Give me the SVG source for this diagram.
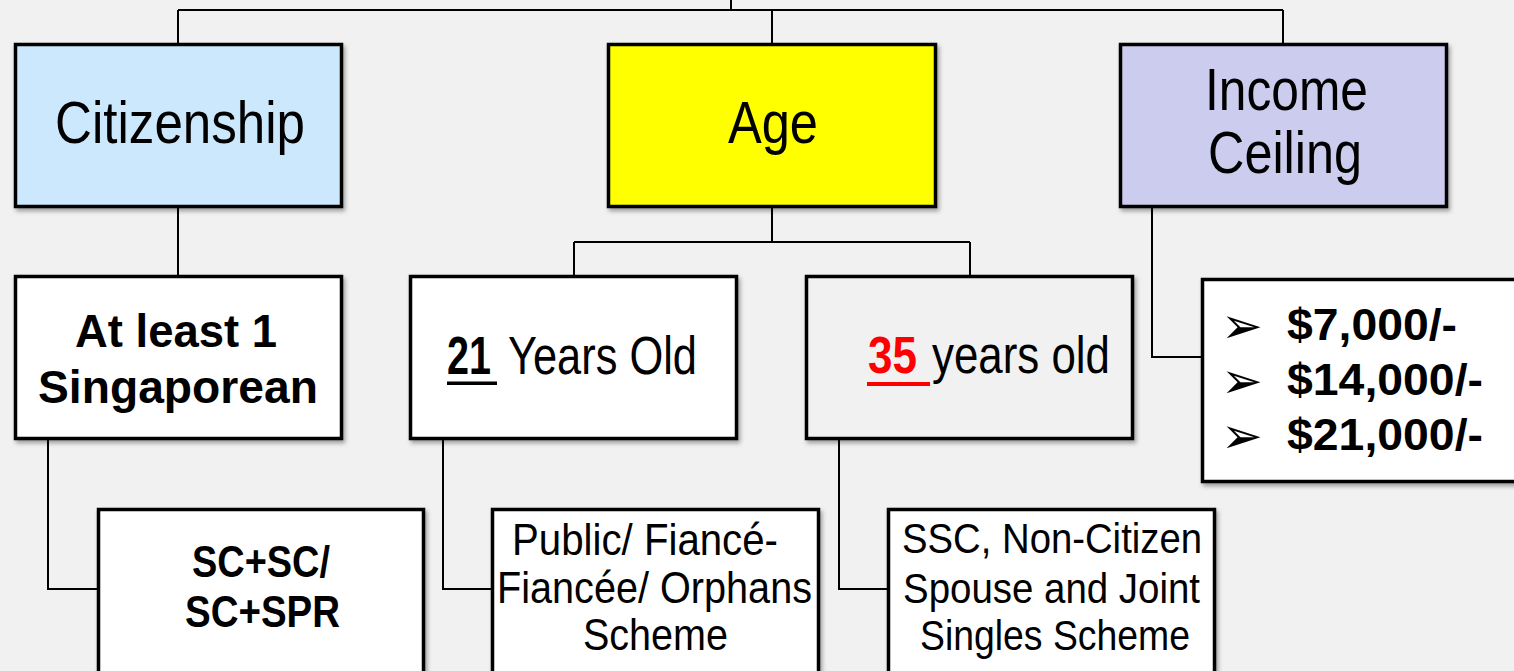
<svg xmlns="http://www.w3.org/2000/svg" width="1514" height="671" viewBox="0 0 1514 671">
<defs>
<filter id="sh" x="-10%" y="-10%" width="120%" height="130%">
<feDropShadow dx="2" dy="3" stdDeviation="2" flood-color="#000" flood-opacity="0.35"/>
</filter>
<style>
.box{stroke:#000;stroke-width:3.5;filter:url(#sh)}
.w{fill:#fff}
.c{fill:none;stroke:#000;stroke-width:2}
text{font-family:"Liberation Sans",Arial,sans-serif;fill:#000}
.b{font-weight:bold}
.bul{font-family:"DejaVu Sans",sans-serif;font-size:50px}
</style>
</defs>
<rect width="1514" height="671" fill="#f1f1f1"/>
<g id="connectors">
<path class="c" d="M731 0V10M178 10H1283M178 10V43M772 10V43M1283 10V43"/>
<path class="c" d="M178 208V275"/>
<path class="c" d="M772 208V242M574 242H970M574 242V275M970 242V275"/>
<path class="c" d="M1152 208V357H1201"/>
<path class="c" d="M48 440V589H97"/>
<path class="c" d="M443 440V589H492"/>
<path class="c" d="M839 440V589H887"/>
</g>
<g id="citizenship">
<rect class="box" x="15.5" y="44.5" width="326" height="162" fill="#cce8fd"/>
<text x="55" y="143" font-size="60" textLength="250" lengthAdjust="spacingAndGlyphs">Citizenship</text>
</g>
<g id="age">
<rect class="box" x="608.5" y="44.5" width="327" height="162" fill="#ffff00"/>
<text x="728" y="143" font-size="60" textLength="90" lengthAdjust="spacingAndGlyphs">Age</text>
</g>
<g id="income">
<rect class="box" x="1120.5" y="44.5" width="326" height="162" fill="#ccccee"/>
<text x="1205" y="110" font-size="60" textLength="163" lengthAdjust="spacingAndGlyphs">Income</text>
<text x="1208" y="173" font-size="60" textLength="154" lengthAdjust="spacingAndGlyphs">Ceiling</text>
</g>
<g id="atleast">
<rect class="box w" x="15.5" y="276.5" width="326" height="162"/>
<text class="b" x="75" y="347" font-size="47" textLength="202" lengthAdjust="spacingAndGlyphs">At least 1</text>
<text class="b" x="38" y="403" font-size="47" textLength="280" lengthAdjust="spacingAndGlyphs">Singaporean</text>
</g>
<g id="age21">
<rect class="box w" x="410.5" y="276.5" width="326" height="162"/>
<text class="b" x="447" y="374" font-size="53" textLength="44" lengthAdjust="spacingAndGlyphs">21</text>
<rect x="447" y="381.5" width="50" height="3.5" fill="#000"/>
<text x="508" y="374" font-size="53" textLength="189" lengthAdjust="spacingAndGlyphs">Years Old</text>
</g>
<g id="age35">
<rect class="box" x="806.5" y="276.5" width="326" height="162" fill="#f1f1f1"/>
<text class="b" x="868" y="373" font-size="51" textLength="49" lengthAdjust="spacingAndGlyphs" style="fill:#ff0000">35</text>
<rect x="867" y="382" width="63" height="4" fill="#ff0000"/>
<text x="932" y="373" font-size="51" textLength="178" lengthAdjust="spacingAndGlyphs">years old</text>
</g>
<g id="incomelist">
<rect class="box w" x="1202.5" y="279.5" width="340" height="202"/>
<text class="bul" x="1221" y="343">➢</text>
<text class="bul" x="1221" y="398">➢</text>
<text class="bul" x="1221" y="453">➢</text>
<text class="b" x="1287" y="340" font-size="44" textLength="170" lengthAdjust="spacingAndGlyphs">$7,000/-</text>
<text class="b" x="1287" y="395" font-size="44" textLength="196" lengthAdjust="spacingAndGlyphs">$14,000/-</text>
<text class="b" x="1287" y="450" font-size="44" textLength="196" lengthAdjust="spacingAndGlyphs">$21,000/-</text>
</g>
<g id="scsc">
<rect class="box w" x="98.5" y="509.5" width="325" height="180"/>
<text class="b" x="192" y="577" font-size="44" textLength="138" lengthAdjust="spacingAndGlyphs">SC+SC/</text>
<text class="b" x="185" y="627" font-size="44" textLength="155" lengthAdjust="spacingAndGlyphs">SC+SPR</text>
</g>
<g id="public">
<rect class="box w" x="492.5" y="509.5" width="326" height="180"/>
<text x="512" y="555" font-size="44" textLength="266" lengthAdjust="spacingAndGlyphs">Public/ Fiancé-</text>
<text x="497" y="603" font-size="44" textLength="315" lengthAdjust="spacingAndGlyphs">Fiancée/ Orphans</text>
<text x="583" y="650" font-size="44" textLength="145" lengthAdjust="spacingAndGlyphs">Scheme</text>
</g>
<g id="ssc">
<rect class="box w" x="888.5" y="509.5" width="326" height="180"/>
<text x="902" y="553" font-size="43" textLength="300" lengthAdjust="spacingAndGlyphs">SSC, Non-Citizen</text>
<text x="903" y="603" font-size="43" textLength="297" lengthAdjust="spacingAndGlyphs">Spouse and Joint</text>
<text x="920" y="650" font-size="43" textLength="270" lengthAdjust="spacingAndGlyphs">Singles Scheme</text>
</g>
</svg>
